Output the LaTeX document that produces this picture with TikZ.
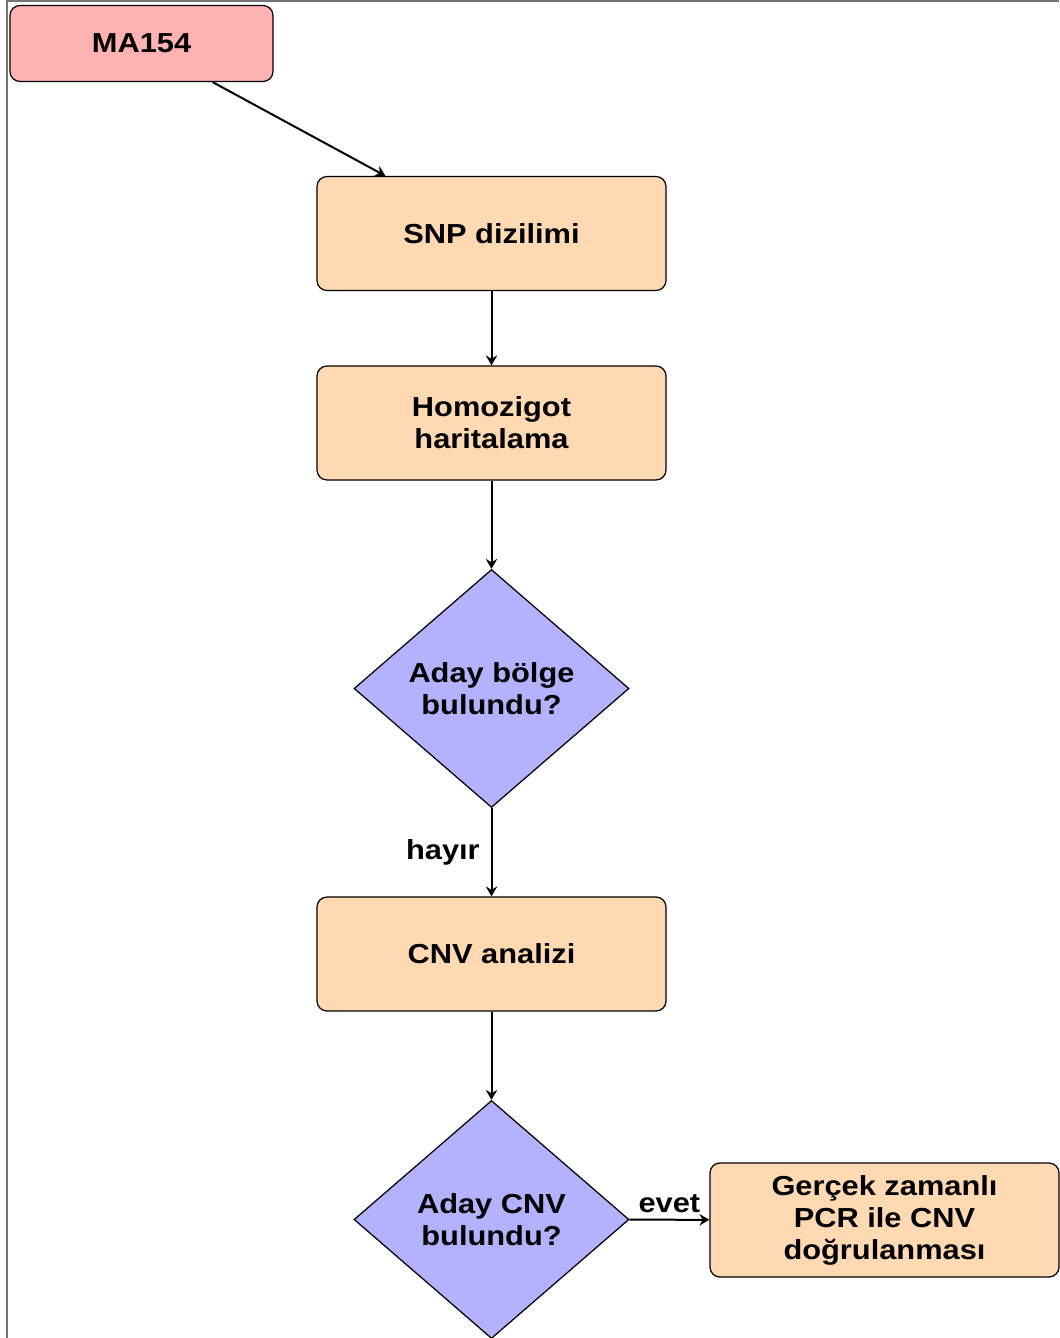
\documentclass[tikz,border=0pt]{standalone}
\usepackage{fontspec}
\setmainfont{Liberation Sans}[FakeStretch=1.12]
\usetikzlibrary{shapes.geometric,arrows.meta}

\tikzset{
	startbox/.style={rectangle, rounded corners=4pt, draw=black, line width=0.5pt, fill=red!30, minimum width=105.2pt, minimum height=30.4pt, font=\fontsize{11}{12.8}\selectfont\bfseries},
	procbox/.style={rectangle, rounded corners=4pt, draw=black, line width=0.5pt, fill=orange!30, minimum width=139.6pt, minimum height=45.6pt, align=center, font=\fontsize{11}{12.8}\selectfont\bfseries},
	askbox/.style={diamond, draw=black, line width=0.5pt, fill=blue!30, inner sep=0pt, minimum width=110pt, minimum height=95.2pt, align=center, font=\fontsize{11}{12.8}\selectfont\bfseries},
	flowarrow/.style={line width=0.8pt, -{Stealth[length=4pt,width=4.6pt,inset=1.4pt]}},
	flowlabel/.style={font=\fontsize{11}{12.8}\selectfont\bfseries}}

\begin{document}
\begin{tikzpicture}[x=0.4pt,y=0.4pt,yscale=-1,xscale=1]
	\useasboundingbox (0,0) rectangle (1059,1338);

	%Shape: Frame
	\draw [black!55, line width=0.8pt] (7,1338) -- (7,1) -- (1059,1) ;

	%Shape: Boxes
	\node [startbox] (ma) at (141.5,43.5) {MA154};
	\node [procbox] (snp) at (491.5,233.5) {SNP dizilimi};
	\node [procbox] (homo) at (491.5,423) {Homozigot\\haritalama};
	\node [askbox] (bolge) at (491.5,688.5) {Aday bölge\\bulundu?};
	\node [procbox] (cnv) at (491.5,954) {CNV analizi};
	\node [askbox] (adaycnv) at (491.5,1219.5) {Aday CNV\\bulundu?};
	\node [procbox] (pcr) at (884.5,1220) {Gerçek zamanlı\\PCR ile CNV\\doğrulanması};

	%Straight Lines
	\draw [flowarrow] (ma) -- (snp);
	\draw [flowarrow] (snp) -- (homo);
	\draw [flowarrow] (homo) -- (bolge);
	\draw [flowarrow] (bolge) -- node [flowlabel, left, xshift=-1pt] {hayır} (cnv);
	\draw [flowarrow] (cnv) -- (adaycnv);
	\draw [flowarrow] (adaycnv) -- node [flowlabel, above, yshift=-1pt] {evet} (pcr);

\end{tikzpicture}
\end{document}
